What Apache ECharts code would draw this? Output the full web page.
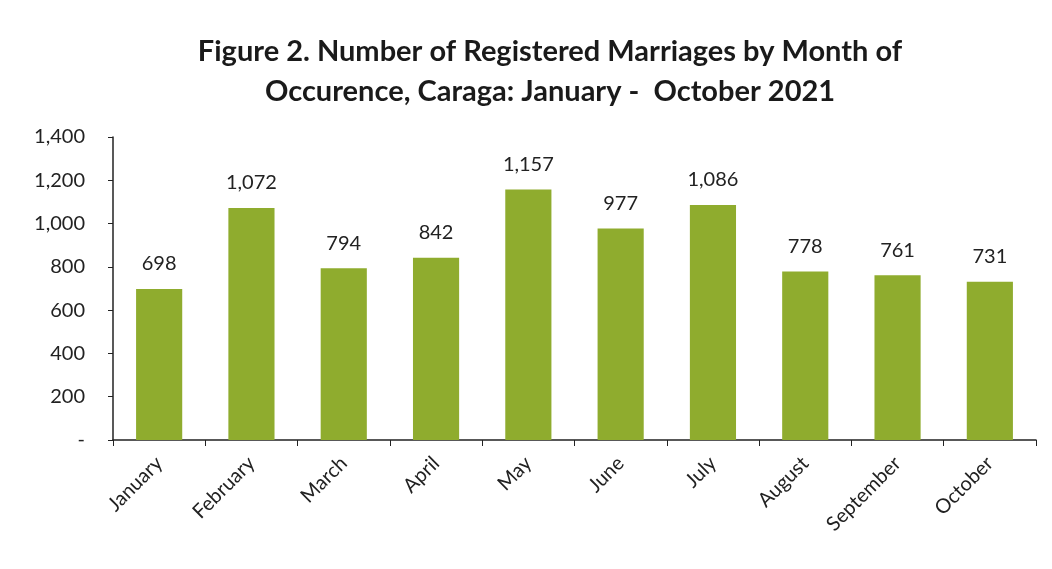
<!DOCTYPE html>
<html>
<head>
<meta charset="utf-8">
<script src="https://cdn.jsdelivr.net/npm/echarts@6/dist/echarts.min.js"></script>
<style>
  html, body { margin: 0; padding: 0; background: #fff; }
  #chart { width: 1052px; height: 569px; }
</style>
</head>
<body>
<div id="chart"></div>
<script>
// data
const months = ['January', 'February', 'March', 'April', 'May', 'June', 'July', 'August', 'September', 'October']
const marriages = [698, 1072, 794, 842, 1157, 977, 1086, 778, 761, 731]
const yTicks = { min: 0, max: 1400, step: 200 }

const fmt = v => v === 0 ? '-' : v.toLocaleString('en-US')

const myChart = echarts.init(document.getElementById('chart'))
const option = {
  backgroundColor: '#fff',
  animation: false,
  title: {
    text: 'Figure 2. Number of Registered Marriages by Month of\nOccurence, Caraga: January -  October 2021',
    left: 545,
    textAlign: 'center',
    top: 27,
    textStyle: {
      fontFamily: 'Lato',
      fontWeight: 'bold',
      fontSize: 29,
      lineHeight: 40,
      color: '#1a1a1a'
    }
  },
  grid: { left: 113, right: 16, top: 137, bottom: 129 },
  xAxis: {
    type: 'category',
    data: months,
    axisLine: { lineStyle: { color: '#222', width: 1.5 } },
    axisTick: { show: true, length: 6, inside: false, lineStyle: { color: '#222' } },
    axisLabel: {
      rotate: 45,
      interval: 0,
      margin: 20,
      fontFamily: 'Lato',
      fontSize: 20,
      color: '#222'
    }
  },
  yAxis: {
    type: 'value',
    min: yTicks.min,
    max: yTicks.max,
    interval: yTicks.step,
    axisLine: { show: true, lineStyle: { color: '#222', width: 1.5 } },
    axisTick: { show: true, length: 5, lineStyle: { color: '#222' } },
    splitLine: { show: false },
    axisLabel: {
      formatter: fmt,
      margin: 28,
      fontFamily: 'Lato',
      fontSize: 20,
      color: '#222'
    }
  },
  series: [{
    type: 'bar',
    data: marriages,
    barCategoryGap: '50%',
    itemStyle: { color: '#8fac2e' },
    label: {
      show: true,
      position: 'top',
      distance: 15,
      formatter: p => fmt(p.value),
      fontFamily: 'Lato',
      fontSize: 20,
      color: '#222'
    }
  }]
}
myChart.setOption(option)
</script>
</body>
</html>
